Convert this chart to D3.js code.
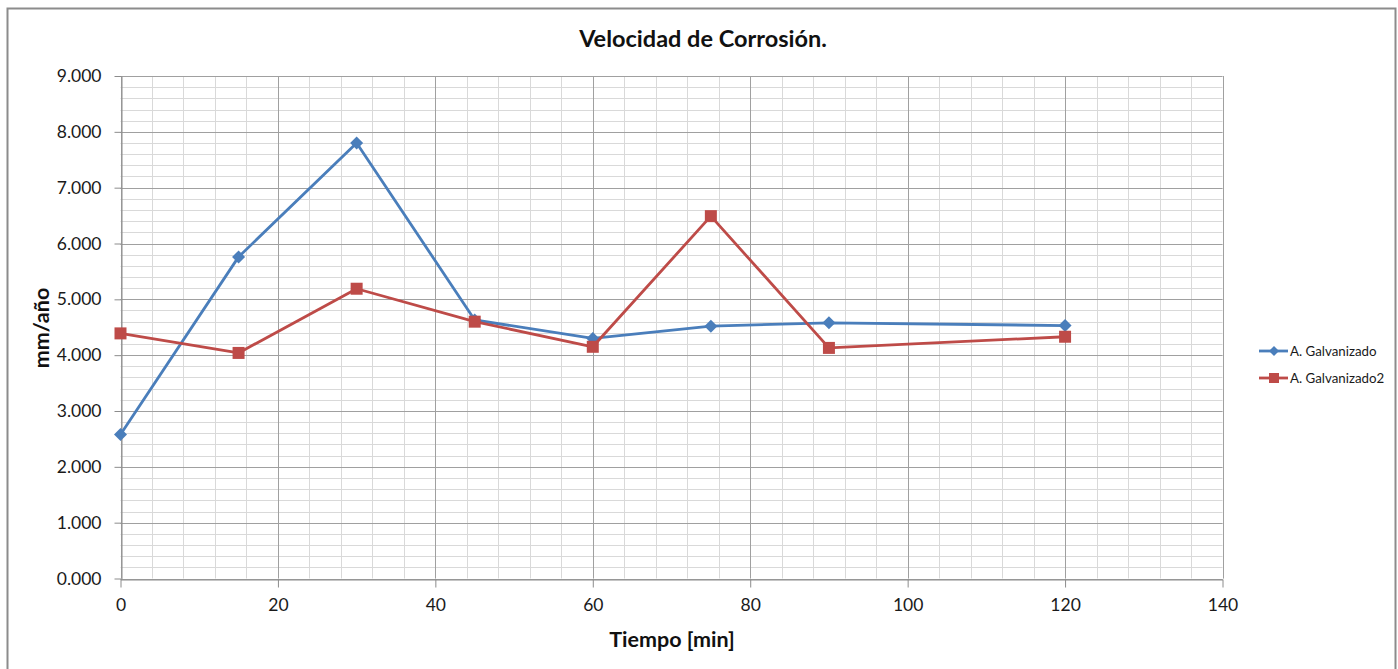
<!DOCTYPE html>
<html><head><meta charset="utf-8">
<script src="https://cdnjs.cloudflare.com/ajax/libs/d3/7.8.5/d3.min.js"></script>
<style>body{margin:0;background:#fff}svg{display:block}</style>
</head><body>
<svg id="c" width="1398" height="669"></svg>
<script>
const times = [0, 15, 30, 45, 60, 75, 90, 120];
const serie1 = [2.58, 5.76, 7.80, 4.63, 4.30, 4.52, 4.58, 4.53];
const serie2 = [4.39, 4.04, 5.19, 4.60, 4.15, 6.49, 4.13, 4.33];
const seriesNames = ["A. Galvanizado", "A. Galvanizado2"];
const xTicks = [0, 20, 40, 60, 80, 100, 120, 140];
const yTicks = [0, 1, 2, 3, 4, 5, 6, 7, 8, 9];
const title = "Velocidad de Corrosión.";
const xTitle = "Tiempo [min]";
const yTitle = "mm/año";

const font = "Lato, 'Open Sans', sans-serif";
const svg = d3.select("#c");
const L = 120.5, R = 1222.5, T = 76, B = 578.5;
const x = d3.scaleLinear().domain([0, 140]).range([L, R]);
const y = d3.scaleLinear().domain([0, 9]).range([B, T]);

// border
svg.append("path").attr("d", `M7.5,669 L7.5,8.5 L1395.5,8.5 L1395.5,669`)
  .attr("fill", "none").attr("stroke", "#8c8c8c").attr("stroke-width", 2);

// minor grid
const g = svg.append("g");
d3.range(0, 140.01, 4).forEach(v => {
  g.append("line").attr("x1", Math.round(x(v)) + 0.5).attr("x2", Math.round(x(v)) + 0.5)
    .attr("y1", T).attr("y2", B).attr("stroke", "#d9d9d9").attr("stroke-width", 1);
});
d3.range(0, 9.001, 0.2).forEach(v => {
  g.append("line").attr("y1", Math.round(y(v)) + 0.5).attr("y2", Math.round(y(v)) + 0.5)
    .attr("x1", L).attr("x2", R).attr("stroke", "#d9d9d9").attr("stroke-width", 1);
});
// major grid
xTicks.forEach(v => {
  g.append("line").attr("x1", Math.round(x(v)) + 0.5).attr("x2", Math.round(x(v)) + 0.5)
    .attr("y1", T).attr("y2", B).attr("stroke", "#a0a0a0").attr("stroke-width", 1);
});
yTicks.forEach(v => {
  g.append("line").attr("y1", Math.round(y(v)) + 0.5).attr("y2", Math.round(y(v)) + 0.5)
    .attr("x1", L).attr("x2", R).attr("stroke", "#a0a0a0").attr("stroke-width", 1);
});

// axes
const xAxis = d3.axisBottom(x).tickValues(xTicks).tickSize(8).tickSizeOuter(0).tickPadding(11);
const xa = svg.append("g").attr("transform", `translate(0,${Math.round(B) + 0.5})`).call(xAxis);
xa.select(".domain").attr("stroke", "#8c8c8c");
xa.selectAll(".tick line").attr("stroke", "#8c8c8c");
xa.selectAll("text").attr("font-family", font).attr("font-size", 17.5).attr("fill", "#1a1a1a");

const yAxis = d3.axisLeft(y).tickValues(yTicks).tickSize(7).tickSizeOuter(0).tickPadding(13)
  .tickFormat(d => d3.format(".3f")(d));
const ya = svg.append("g").attr("transform", `translate(${Math.round(L) + 0.5},0)`).call(yAxis);
ya.select(".domain").attr("stroke", "#8c8c8c");
ya.selectAll(".tick line").attr("stroke", "#8c8c8c");
ya.selectAll("text").attr("font-family", font).attr("font-size", 17.5).attr("fill", "#1a1a1a");

// titles
svg.append("text").attr("x", 703).attr("y", 47).attr("text-anchor", "middle")
  .attr("font-family", font).attr("font-weight", "bold").attr("font-size", 23.5).attr("fill", "#111").text(title);
svg.append("text").attr("x", 672).attr("y", 647).attr("text-anchor", "middle")
  .attr("font-family", font).attr("font-weight", "bold").attr("font-size", 21.5).attr("fill", "#111").text(xTitle);
svg.append("text").attr("transform", `translate(49,328) rotate(-90)`).attr("text-anchor", "middle")
  .attr("font-family", font).attr("font-weight", "bold").attr("font-size", 21.5).attr("fill", "#111").text(yTitle);

// series
const colors = ["#4a7ebb", "#be4b48"];
const allSeries = [serie1, serie2];
const diamond = r => `M0,${-r}L${r},0L0,${r}L${-r},0Z`;
const square = r => `M${-r},${-r}H${r}V${r}H${-r}Z`;
const line = d3.line().x(d => x(d[0])).y(d => y(d[1]));
allSeries.forEach((s, i) => {
  const pts = times.map((t, j) => [t, s[j]]);
  svg.append("path").datum(pts).attr("d", line).attr("fill", "none")
    .attr("stroke", colors[i]).attr("stroke-width", 2.8).attr("stroke-linejoin", "round");
  svg.append("g").selectAll("path").data(pts).join("path")
    .attr("transform", d => `translate(${x(d[0])},${y(d[1])})`)
    .attr("d", i === 0 ? diamond(6.5) : square(6))
    .attr("fill", colors[i]);
});

// legend
seriesNames.forEach((name, i) => {
  const ly = 351 + i * 27;
  svg.append("line").attr("x1", 1259).attr("x2", 1288).attr("y1", ly).attr("y2", ly)
    .attr("stroke", colors[i]).attr("stroke-width", 2.8);
  svg.append("path").attr("transform", `translate(1274,${ly})`)
    .attr("d", i === 0 ? diamond(5) : square(5)).attr("fill", colors[i]);
  svg.append("text").attr("x", 1290).attr("y", ly + 4.5).attr("font-family", font)
    .attr("font-size", 13.3).attr("fill", "#1a1a1a").text(name);
});
</script>
</body></html>
